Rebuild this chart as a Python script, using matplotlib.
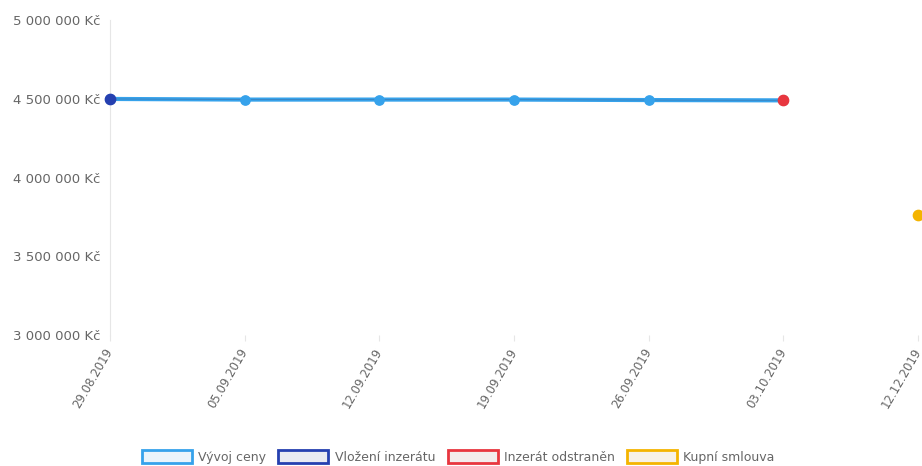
import matplotlib
matplotlib.use("Agg")
import matplotlib.pyplot as plt
from matplotlib.patches import Patch
from matplotlib.ticker import FuncFormatter

dates = ["29.08.2019", "05.09.2019", "12.09.2019", "19.09.2019", "26.09.2019", "03.10.2019", "12.12.2019"]
vyvoj_idx = [0, 1, 2, 3, 4, 5]
vyvoj_vals = [4499000, 4495000, 4495000, 4495000, 4492000, 4490000]
vlozeni_idx = [0]
vlozeni_vals = [4499000]
odstranen_idx = [5]
odstranen_vals = [4490000]
kupni_idx = [6]
kupni_vals = [3765000]
legend_labels = ["Vývoj ceny", "Vložení inzerátu", "Inzerát odstraněn", "Kupní smlouva"]

c_light = "#36A2EB"
c_dark = "#2540b0"
c_red = "#e8363f"
c_yellow = "#f4b400"
grey = "#666666"

fig = plt.figure(figsize=(9.22, 4.66), dpi=100)
ax = fig.add_axes([0.1193, 0.281, 0.8764, 0.676])

ax.plot(vyvoj_idx, vyvoj_vals, color=c_light, lw=3, zorder=2, clip_on=False)
ax.plot(vyvoj_idx, vyvoj_vals, color="#3a86c4", lw=0.7, zorder=2.1, clip_on=False)
ax.scatter(vyvoj_idx, vyvoj_vals, s=45, color=c_light, zorder=3, clip_on=False)
ax.scatter(vlozeni_idx, vlozeni_vals, s=55, color=c_dark, zorder=4, clip_on=False)
ax.scatter(odstranen_idx, odstranen_vals, s=55, color=c_red, zorder=4, clip_on=False)
ax.scatter(kupni_idx, kupni_vals, s=55, color=c_yellow, zorder=4, clip_on=False)

ax.set_xlim(0, len(dates) - 1)
ax.set_ylim(3000000, 5000000)
ax.set_yticks([3000000, 3500000, 4000000, 4500000, 5000000])
ax.yaxis.set_major_formatter(FuncFormatter(lambda v, p: f"{int(v):,}".replace(",", " ") + " Kč"))
ax.set_xticks(range(len(dates)))
ax.set_xticklabels(dates, rotation=60, ha="right", va="center", rotation_mode="anchor")

for s in ["top", "right", "bottom"]:
    ax.spines[s].set_visible(False)
ax.spines["left"].set_color("#e6e6e6")
ax.tick_params(axis="y", length=0, labelsize=9.5, labelcolor=grey, pad=7)
ax.tick_params(axis="x", length=4, color="#e6e6e6", labelsize=8.5, labelcolor=grey, pad=6)

handles = [
    Patch(facecolor="#eaf4fb", edgecolor=c_light, lw=2),
    Patch(facecolor="#e8eaf2", edgecolor=c_dark, lw=2),
    Patch(facecolor="#f3ecec", edgecolor=c_red, lw=2),
    Patch(facecolor="#f7f1e6", edgecolor=c_yellow, lw=2),
]
leg = fig.legend(handles, legend_labels, loc="lower center", bbox_to_anchor=(0.497, -0.02),
                 ncol=4, frameon=False, fontsize=9, handlelength=4.0, handleheight=1.2,
                 columnspacing=1.0, handletextpad=0.5)
for t in leg.get_texts():
    t.set_color(grey)

fig.savefig("out.png", dpi=100)
